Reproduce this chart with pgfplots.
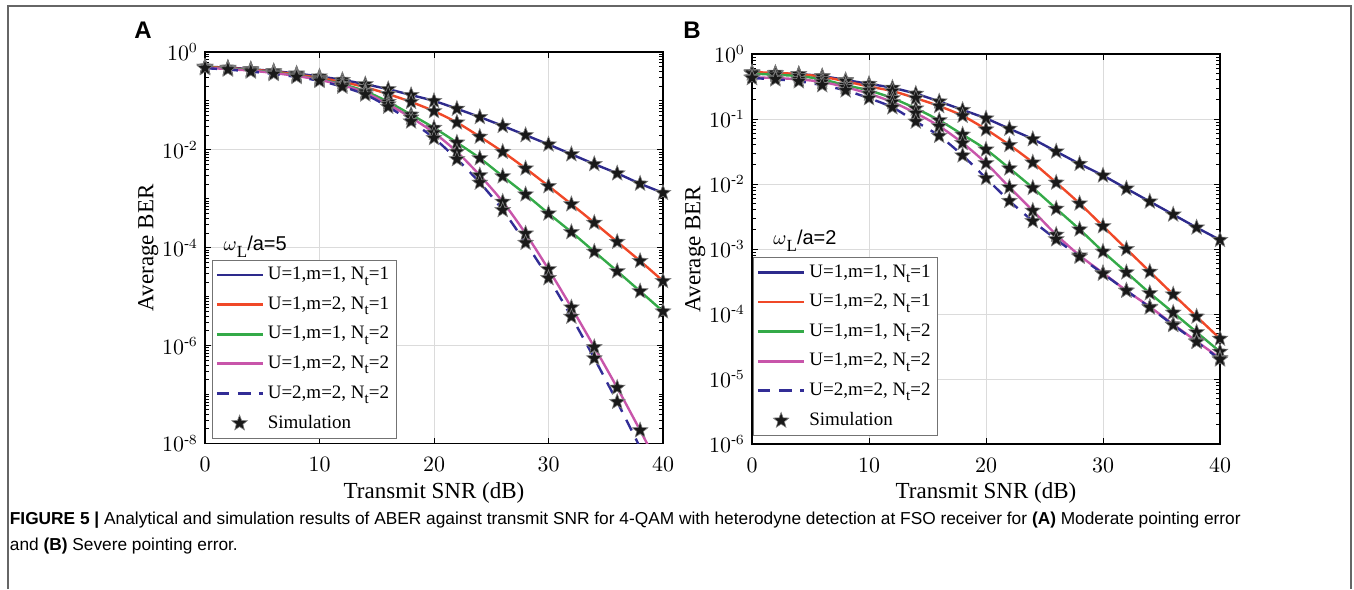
\documentclass[border=0pt]{standalone}
\usepackage{amsmath}
\usepackage{fontspec}
\setmainfont{Liberation Serif}
\newfontfamily\capfont{Liberation Sans}
\usepackage{pgfplots}
\usepackage{pgfplotstable}
\pgfplotsset{compat=1.18}

\definecolor{cblue}{RGB}{45,42,140}
\definecolor{cred}{RGB}{240,72,40}
\definecolor{cgreen}{RGB}{52,170,72}
\definecolor{cpink}{RGB}{200,85,170}
\definecolor{cdash}{RGB}{50,45,150}

\pgfdeclareplotmark{fstar}{%
 \pgfpathmoveto{\pgfpointpolar{90}{\pgfplotmarksize}}%
 \pgfpathlineto{\pgfpointpolar{126}{0.42\pgfplotmarksize}}%
 \pgfpathlineto{\pgfpointpolar{162}{\pgfplotmarksize}}%
 \pgfpathlineto{\pgfpointpolar{198}{0.42\pgfplotmarksize}}%
 \pgfpathlineto{\pgfpointpolar{234}{\pgfplotmarksize}}%
 \pgfpathlineto{\pgfpointpolar{270}{0.42\pgfplotmarksize}}%
 \pgfpathlineto{\pgfpointpolar{306}{\pgfplotmarksize}}%
 \pgfpathlineto{\pgfpointpolar{342}{0.42\pgfplotmarksize}}%
 \pgfpathlineto{\pgfpointpolar{18}{\pgfplotmarksize}}%
 \pgfpathlineto{\pgfpointpolar{54}{0.42\pgfplotmarksize}}%
 \pgfpathclose
 \pgfusepathqfillstroke
}

\newcommand\Nt{N\raisebox{-0.6ex}{\fontsize{7.5}{8}\selectfont t}}
\newcommand\tp[1]{$10^{\text{-}#1}$}

\pgfplotstableread{
snr b r g p d pl dl
0  5.01e-1 5.01e-1 4.90e-1 4.79e-1 4.68e-1 4.79e-1 4.68e-1
2  4.79e-1 4.68e-1 4.57e-1 4.47e-1 4.37e-1 4.47e-1 4.37e-1
4  4.47e-1 4.37e-1 4.27e-1 4.17e-1 3.98e-1 4.17e-1 3.98e-1
6  4.07e-1 3.98e-1 3.80e-1 3.72e-1 3.55e-1 3.72e-1 3.55e-1
8  3.63e-1 3.47e-1 3.31e-1 3.24e-1 3.09e-1 3.24e-1 3.09e-1
10 3.16e-1 2.95e-1 2.75e-1 2.69e-1 2.57e-1 2.69e-1 2.57e-1
12 2.69e-1 2.45e-1 2.19e-1 2.09e-1 1.95e-1 2.09e-1 1.95e-1
14 2.19e-1 1.91e-1 1.58e-1 1.48e-1 1.35e-1 1.48e-1 1.35e-1
16 1.74e-1 1.38e-1 9.55e-2 8.51e-2 7.59e-2 8.51e-2 7.59e-2
18 1.32e-1 9.55e-2 5.25e-2 4.57e-2 3.80e-2 4.57e-2 3.80e-2
20 1.00e-1 6.17e-2 2.82e-2 2.24e-2 1.74e-2 2.24e-2 1.74e-2
22 6.92e-2 3.63e-2 1.41e-2 9.12e-3 6.46e-3 9.12e-3 6.46e-3
24 4.68e-2 1.86e-2 6.76e-3 3.02e-3 2.14e-3 3.02e-3 2.14e-3
26 3.09e-2 9.12e-3 2.88e-3 8.71e-4 5.89e-4 8.71e-4 5.89e-4
28 2.00e-2 4.17e-3 1.23e-3 1.95e-4 1.26e-4 1.95e-4 1.26e-4
30 1.29e-2 1.82e-3 5.01e-4 3.63e-5 2.40e-5 3.63e-5 2.40e-5
32 8.13e-3 7.76e-4 2.09e-4 6.03e-6 3.89e-6 6.03e-6 3.89e-6
34 5.13e-3 3.24e-4 8.32e-5 9.33e-7 5.50e-7 9.33e-7 5.50e-7
36 3.31e-3 1.32e-4 3.31e-5 1.38e-7 7.08e-8 1.38e-7 7.08e-8
38 2.04e-3 5.37e-5 1.29e-5 1.86e-8 nan     1.86e-8 8.32e-9
40 1.32e-3 2.09e-5 5.01e-6 nan     nan     2.40e-9 9.33e-10
}\dataA

\pgfplotstableread{
snr b r g p d
0  5.13e-1 5.25e-1 5.01e-1 4.37e-1 4.27e-1
2  5.01e-1 5.13e-1 4.79e-1 4.27e-1 4.07e-1
4  4.90e-1 4.90e-1 4.57e-1 4.07e-1 3.80e-1
6  4.57e-1 4.47e-1 4.07e-1 3.72e-1 3.31e-1
8  3.98e-1 3.80e-1 3.31e-1 3.09e-1 2.75e-1
10 3.47e-1 3.16e-1 2.75e-1 2.45e-1 2.09e-1
12 3.02e-1 2.69e-1 2.09e-1 1.82e-1 1.51e-1
14 2.45e-1 2.09e-1 1.45e-1 1.23e-1 9.12e-2
16 1.86e-1 1.58e-1 9.55e-2 7.76e-2 5.50e-2
18 1.38e-1 1.12e-1 5.75e-2 4.27e-2 2.75e-2
20 1.02e-1 6.92e-2 3.39e-2 2.09e-2 1.23e-2
22 7.08e-2 3.98e-2 1.74e-2 8.91e-3 5.50e-3
24 4.90e-2 2.14e-2 8.71e-3 3.89e-3 2.69e-3
26 3.16e-2 1.05e-2 4.17e-3 1.66e-3 1.41e-3
28 2.04e-2 5.01e-3 2.00e-3 7.94e-4 7.59e-4
30 1.35e-2 2.24e-3 9.12e-4 4.27e-4 4.17e-4
32 8.51e-3 1.00e-3 4.37e-4 2.29e-4 2.29e-4
34 5.37e-3 4.47e-4 2.09e-4 1.29e-4 1.26e-4
36 3.39e-3 2.00e-4 1.05e-4 6.92e-5 6.76e-5
38 2.14e-3 9.12e-5 5.25e-5 3.80e-5 3.72e-5
40 1.38e-3 4.17e-5 2.63e-5 2.09e-5 2.00e-5
}\dataB

\pgfplotsset{
 legend image code/.code={\draw[mark repeat=2,mark phase=2,#1,line width=1.45pt] plot coordinates {(0cm,0cm) (0.4cm,0cm) (0.8cm,0cm)};},
}

\begin{document}
\begin{tikzpicture}
\useasboundingbox (0,0) rectangle (677pt,294.5pt);
\draw[black!60, line width=0.8pt] (4pt,0pt) -- (4pt,291.5pt) -- (675.5pt,291.5pt) -- (675.5pt,0pt);

% ---------- Panel A ----------
\begin{axis}[ymode=log, xmin=0, xmax=40, xtick={0,10,20,30,40},
  scale only axis, at={(102.5pt,72.75pt)}, anchor=south west,
  width=229pt, height=195.75pt,
  ymin=1e-8, ymax=1,
  ytick={1e-8,1e-6,1e-4,1e-2,1e0},
  yticklabels={\tp{8},\tp{6},\tp{4},\tp{2},$10^{0}$},
  minor ytick={2e-8,3e-8,4e-8,5e-8,6e-8,7e-8,8e-8,9e-8,1e-7,2e-7,3e-7,4e-7,5e-7,6e-7,7e-7,8e-7,9e-7,
    2e-6,3e-6,4e-6,5e-6,6e-6,7e-6,8e-6,9e-6,1e-5,2e-5,3e-5,4e-5,5e-5,6e-5,7e-5,8e-5,9e-5,
    2e-4,3e-4,4e-4,5e-4,6e-4,7e-4,8e-4,9e-4,1e-3,2e-3,3e-3,4e-3,5e-3,6e-3,7e-3,8e-3,9e-3,
    2e-2,3e-2,4e-2,5e-2,6e-2,7e-2,8e-2,9e-2,1e-1,2e-1,3e-1,4e-1,5e-1,6e-1,7e-1,8e-1,9e-1},
  tick align=inside, major tick length=3pt, minor tick length=1.8pt,
  grid=major, major grid style={draw=black!14, line width=0.5pt},
  axis line style={line width=0.6pt},
  every tick/.style={black, line width=0.45pt},
  tick label style={font=\fontsize{10.5}{12}\selectfont},
  xticklabel style={yshift=-3.5pt},
  label style={font=\fontsize{11.5}{13}\selectfont},
  xlabel={Transmit SNR (dB)}, ylabel={Average BER},
  xlabel style={yshift=1.5pt},
  ylabel style={at={(axis description cs:-0.124,0.5)}, anchor=center},
  legend cell align=left,
  legend style={font=\fontsize{9.5}{11}\selectfont, draw=black!55, line width=0.5pt,
    inner sep=1.5pt, row sep=3pt, fill=white, at={(0.015,0.012)}, anchor=south west},
]
\addplot[line width=1.2pt, smooth, no marks, cblue] table[x=snr,y=b]{\dataA};
\addplot[line width=1.2pt, smooth, no marks, cred] table[x=snr,y=r]{\dataA};
\addplot[line width=1.2pt, smooth, no marks, cgreen] table[x=snr,y=g]{\dataA};
\addplot[line width=1.2pt, smooth, no marks, cpink] table[x=snr,y=pl]{\dataA};
\addplot[line width=1.2pt, smooth, no marks, cdash, dash pattern=on 6pt off 4.5pt] table[x=snr,y=dl]{\dataA};
\addplot[only marks, mark=fstar, mark size=4.1pt, mark options={fill=black!90, draw=black!50, line width=0.3pt}] table[x=snr,y=b]{\dataA};
\addplot[forget plot, only marks, mark=fstar, mark size=4.1pt, mark options={fill=black!90, draw=black!50, line width=0.3pt}] table[x=snr,y=r]{\dataA};
\addplot[forget plot, only marks, mark=fstar, mark size=4.1pt, mark options={fill=black!90, draw=black!50, line width=0.3pt}] table[x=snr,y=g]{\dataA};
\addplot[forget plot, only marks, mark=fstar, mark size=4.1pt, mark options={fill=black!90, draw=black!50, line width=0.3pt}] table[x=snr,y=p]{\dataA};
\addplot[forget plot, only marks, mark=fstar, mark size=4.1pt, mark options={fill=black!90, draw=black!50, line width=0.3pt}] table[x=snr,y=d]{\dataA};
\legend{U=1{,}m=1{,} \Nt=1, U=1{,}m=2{,} \Nt=1, U=1{,}m=1{,} \Nt=2, U=1{,}m=2{,} \Nt=2, U=2{,}m=2{,} \Nt=2, Simulation}
\node[anchor=base west, font=\fontsize{10}{12}\selectfont, inner sep=0pt] at (axis cs:1.6,8.9e-5)
  {$\omega$\raisebox{-0.8ex}{\fontsize{8.5}{9}\selectfont L}{\capfont /a=5}};
\end{axis}

% ---------- Panel B ----------
\begin{axis}[ymode=log, xmin=0, xmax=40, xtick={0,10,20,30,40},
  scale only axis, at={(376pt,72.5pt)}, anchor=south west,
  width=234pt, height=195pt,
  ymin=1e-6, ymax=1,
  ytick={1e-6,1e-5,1e-4,1e-3,1e-2,1e-1,1e0},
  yticklabels={\tp{6},\tp{5},\tp{4},\tp{3},\tp{2},\tp{1},$10^{0}$},
  tick align=inside, major tick length=3pt, minor tick length=1.8pt,
  grid=major, major grid style={draw=black!14, line width=0.5pt},
  axis line style={line width=0.6pt},
  every tick/.style={black, line width=0.45pt},
  tick label style={font=\fontsize{10.5}{12}\selectfont},
  xticklabel style={yshift=-3.5pt},
  label style={font=\fontsize{11.5}{13}\selectfont},
  xlabel={Transmit SNR (dB)}, ylabel={Average BER},
  xlabel style={yshift=1.5pt},
  ylabel style={at={(axis description cs:-0.121,0.5)}, anchor=center},
  legend cell align=left,
  legend style={font=\fontsize{9.5}{11}\selectfont, draw=black!55, line width=0.5pt,
    inner sep=1.5pt, row sep=3pt, fill=white, at={(0.003,0.02)}, anchor=south west},
]
\addplot[line width=1.2pt, smooth, no marks, cblue] table[x=snr,y=b]{\dataB};
\addplot[line width=1.2pt, smooth, no marks, cred] table[x=snr,y=r]{\dataB};
\addplot[line width=1.2pt, smooth, no marks, cgreen] table[x=snr,y=g]{\dataB};
\addplot[line width=1.2pt, smooth, no marks, cpink] table[x=snr,y=p]{\dataB};
\addplot[line width=1.2pt, smooth, no marks, cdash, dash pattern=on 6pt off 4.5pt] table[x=snr,y=d]{\dataB};
\addplot[only marks, mark=fstar, mark size=4.1pt, mark options={fill=black!90, draw=black!50, line width=0.3pt}] table[x=snr,y=b]{\dataB};
\addplot[forget plot, only marks, mark=fstar, mark size=4.1pt, mark options={fill=black!90, draw=black!50, line width=0.3pt}] table[x=snr,y=r]{\dataB};
\addplot[forget plot, only marks, mark=fstar, mark size=4.1pt, mark options={fill=black!90, draw=black!50, line width=0.3pt}] table[x=snr,y=g]{\dataB};
\addplot[forget plot, only marks, mark=fstar, mark size=4.1pt, mark options={fill=black!90, draw=black!50, line width=0.3pt}] table[x=snr,y=p]{\dataB};
\addplot[forget plot, only marks, mark=fstar, mark size=4.1pt, mark options={fill=black!90, draw=black!50, line width=0.3pt}] table[x=snr,y=d]{\dataB};
\legend{U=1{,}m=1{,} \Nt=1, U=1{,}m=2{,} \Nt=1, U=1{,}m=1{,} \Nt=2, U=1{,}m=2{,} \Nt=2, U=2{,}m=2{,} \Nt=2, Simulation}
\node[anchor=base west, font=\fontsize{10}{12}\selectfont, inner sep=0pt] at (axis cs:1.8,1.17e-3)
  {$\omega$\raisebox{-0.8ex}{\fontsize{8.5}{9}\selectfont L}{\capfont /a=2}};
\end{axis}

% panel letters
\node[anchor=base west, inner sep=0pt, font=\capfont\bfseries\fontsize{12}{14}\selectfont] at (67pt,275pt) {A};
\node[anchor=base west, inner sep=0pt, font=\capfont\bfseries\fontsize{12}{14}\selectfont] at (341.5pt,275pt) {B};

% caption
\node[anchor=base west, inner sep=0pt, font=\capfont\fontsize{8.65}{10}\selectfont] at (4.75pt,32.5pt)
  {\textbf{FIGURE 5 |} Analytical and simulation results of ABER against transmit SNR for 4-QAM with heterodyne detection at FSO receiver for \textbf{(A)} Moderate pointing error};
\node[anchor=base west, inner sep=0pt, font=\capfont\fontsize{8.65}{10}\selectfont] at (4.75pt,19.5pt)
  {and \textbf{(B)} Severe pointing error.};
\end{tikzpicture}
\end{document}
